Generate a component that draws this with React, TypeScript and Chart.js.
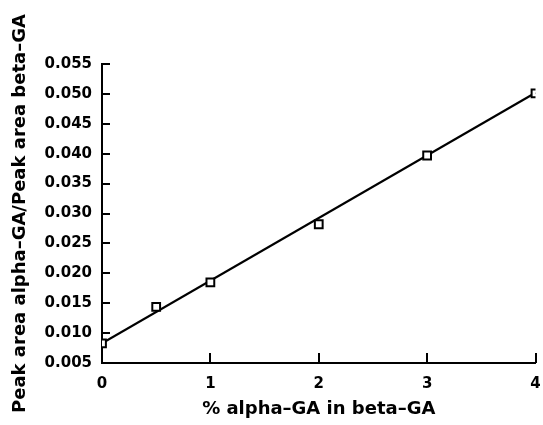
import React, { useEffect, useRef } from "react";
import { Chart, registerables } from "chart.js";

Chart.register(...registerables);

// % alpha-GA in beta-GA
const percentAlpha = [0, 0.5, 1, 2, 3, 4];
// Peak area ratio alpha-GA / beta-GA
const peakRatio = [0.0083, 0.0144, 0.0185, 0.0282, 0.0397, 0.0501];
// Fitted straight line (end points)
const fitX = [0, 4];
const fitY = [0.0083, 0.0502];

const xTicks = [0, 1, 2, 3, 4];
const yTicks = [0.005, 0.01, 0.015, 0.02, 0.025, 0.03, 0.035, 0.04, 0.045, 0.05, 0.055];

const FONT = "'DejaVu Sans', 'Liberation Sans', Arial, sans-serif";

const innerTicks = {
  id: "innerTicks",
  beforeDatasetsDraw(chart: any) {
    const { ctx, chartArea, scales } = chart;
    const x = scales.x;
    const y = scales.y;
    ctx.save();
    ctx.strokeStyle = "#000";
    ctx.lineWidth = 2;
    ctx.lineCap = "butt";
    y.ticks.forEach((t: any) => {
      const py = Math.round(y.getPixelForValue(t.value));
      ctx.beginPath();
      ctx.moveTo(chartArea.left, py);
      ctx.lineTo(chartArea.left + 8, py);
      ctx.stroke();
    });
    x.ticks.forEach((t: any) => {
      const px = Math.round(x.getPixelForValue(t.value));
      ctx.beginPath();
      ctx.moveTo(px, chartArea.bottom);
      ctx.lineTo(px, chartArea.bottom - 10);
      ctx.stroke();
    });
    ctx.restore();
  },
};

export default function App() {
  const ref = useRef<HTMLCanvasElement | null>(null);

  useEffect(() => {
    if (!ref.current) return;
    const chart = new Chart(ref.current, {
      type: "scatter",
      data: {
        datasets: [
          {
            label: "data",
            data: percentAlpha.map((v, i) => ({ x: v, y: peakRatio[i] })),
            showLine: false,
            pointStyle: "rect",
            pointRadius: 5.5,
            pointBorderWidth: 2,
            pointBorderColor: "#000",
            pointBackgroundColor: "#fff",
          },
          {
            label: "fit",
            data: fitX.map((v, i) => ({ x: v, y: fitY[i] })),
            showLine: true,
            borderColor: "#000",
            borderWidth: 2.2,
            pointRadius: 0,
          },
        ],
      },
      options: {
        animation: false,
        responsive: false,
        layout: { padding: { left: 0, top: 64, right: 6, bottom: 0 } },
        plugins: {
          legend: { display: false },
          tooltip: { enabled: false },
        },
        scales: {
          x: {
            type: "linear",
            min: 0,
            max: 4,
            afterBuildTicks: (s: any) => {
              s.ticks = xTicks.map((v) => ({ value: v }));
            },
            afterFit: (s: any) => {
              s.height = 62;
              s.paddingLeft = 0;
              s.paddingRight = 0;
            },
            grid: { display: false },
            border: { display: true, color: "#000", width: 2 },
            ticks: {
              color: "#000",
              padding: 4,
              font: { family: FONT, size: 15, weight: "bold" },
              callback: (v: any) => String(v),
            },
            title: {
              display: true,
              text: "% alpha–GA in beta–GA",
              color: "#000",
              font: { family: FONT, size: 18, weight: "bold" },
              padding: { top: 0, bottom: 5 },
            },
          },
          y: {
            type: "linear",
            min: 0.005,
            max: 0.055,
            afterBuildTicks: (s: any) => {
              s.ticks = yTicks.map((v) => ({ value: v }));
            },
            afterFit: (s: any) => {
              s.width = 102;
              s.paddingTop = 0;
              s.paddingBottom = 0;
            },
            grid: { display: false },
            border: { display: true, color: "#000", width: 2 },
            ticks: {
              color: "#000",
              padding: 2,
              font: { family: FONT, size: 15, weight: "bold" },
              callback: (v: any) => Number(v).toFixed(3),
            },
            title: {
              display: true,
              text: "Peak area alpha–GA/Peak area beta–GA",
              color: "#000",
              font: { family: FONT, size: 18, weight: "bold" },
              padding: { top: 10, bottom: 0 },
            },
          },
        },
      },
      plugins: [innerTicks],
    });
    return () => chart.destroy();
  }, []);

  return (
    <div style={{ position: "fixed", left: 0, top: 0, width: 543, height: 425, background: "#fff" }}>
      <canvas ref={ref} width={543} height={425} style={{ display: "block" }} />
    </div>
  );
}
